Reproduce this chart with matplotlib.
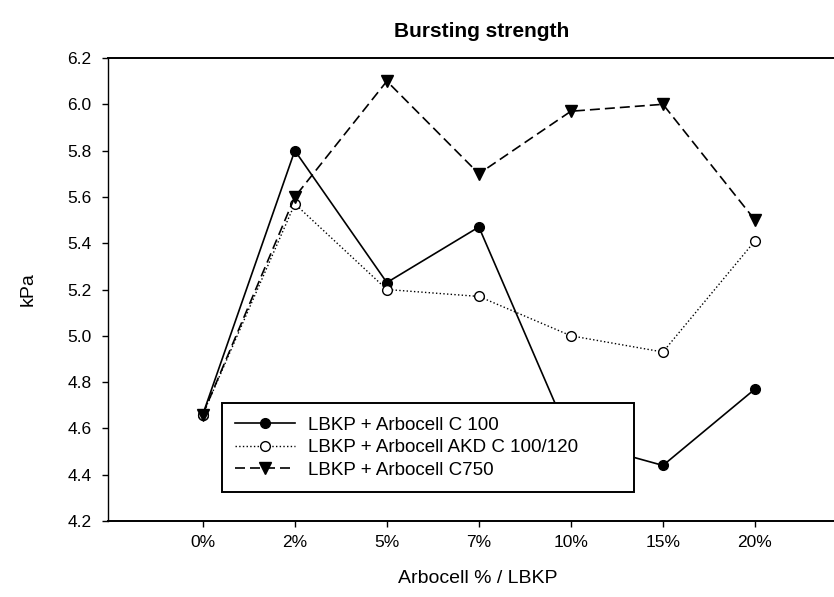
import matplotlib
matplotlib.use("Agg")
import matplotlib.pyplot as plt
import numpy as np

plt.rcParams["font.family"] = ["Liberation Sans", "DejaVu Sans"]

categories = ["0%", "2%", "5%", "7%", "10%", "15%", "20%"]
c100 = [4.66, 5.80, 5.23, 5.47, 4.55, 4.44, 4.77]
akd = [4.66, 5.57, 5.20, 5.17, 5.00, 4.93, 5.41]
c750 = [4.66, 5.60, 6.10, 5.70, 5.97, 6.00, 5.50]
yticks = [4.2, 4.4, 4.6, 4.8, 5.0, 5.2, 5.4, 5.6, 5.8, 6.0, 6.2]

fig = plt.figure(figsize=(8.34, 5.97), dpi=100)
# right spine sits just past the image edge, as in the scan
ax = fig.add_axes([108 / 834, 76 / 597, 739 / 834, 463 / 597])

x = np.arange(len(categories))
ax.plot(x, c100, "-o", color="black", lw=1.2, ms=7, mfc="black",
        label="LBKP + Arbocell C 100")
ax.plot(x, akd, ":o", color="black", lw=1.0, ms=7, mfc="white",
        label="LBKP + Arbocell AKD C 100/120")
ax.plot(x, c750, "--v", color="black", lw=1.2, ms=8, mfc="black",
        dashes=(6, 3), label="LBKP + Arbocell C750")

ax.set_xlim(-1.03, 7)
ax.set_ylim(4.2, 6.2)
ax.set_xticks(x)
ax.set_xticklabels(categories)
ax.set_yticks(yticks)
ax.set_yticklabels([f"{v:.1f}" for v in yticks])
ax.tick_params(axis="both", direction="out", length=4, width=1,
               labelsize=12.5, colors="black")
ax.tick_params(axis="x", pad=6)
ax.tick_params(axis="y", pad=8)
for s in ax.spines.values():
    s.set_linewidth(1.4)
    s.set_color("black")
ax.spines["left"].set_linewidth(1.0)

ax.text(0.506, 1.058, "Bursting strength", transform=ax.transAxes,
        ha="center", va="center", fontsize=15, fontweight="bold")
ax.set_xlabel("Arbocell % / LBKP", fontsize=14)
ax.set_ylabel("kPa", fontsize=14)
ax.xaxis.set_label_coords(0.5, -0.106)
ax.yaxis.set_label_coords(-0.096, 0.5)

leg = ax.legend(loc="lower left", bbox_to_anchor=(0.154, 0.0626, 0.5575, 0.2),
                mode="expand", fontsize=13.5, frameon=True, fancybox=False,
                edgecolor="black", handlelength=3.2, handletextpad=0.7,
                borderpad=0.72, borderaxespad=0, labelspacing=0.28,
                framealpha=1)
leg.get_frame().set_linewidth(1.4)
leg.set_zorder(5)

fig.savefig("out.png", dpi=100)
